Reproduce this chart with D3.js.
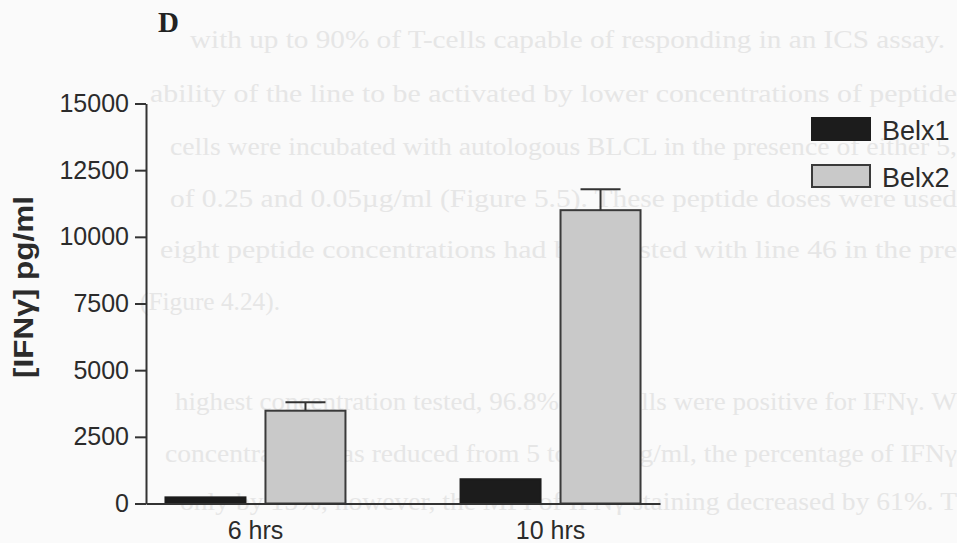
<!DOCTYPE html>
<html>
<head>
<meta charset="utf-8">
<script src="https://cdn.jsdelivr.net/npm/d3@7"></script>
<style>
  body { margin: 0; background: #fafafa; }
  svg { display: block; }
  .tick text, .xlab { font-family: "Liberation Sans", Arial, sans-serif; fill: #2b2b2b; }
  .bleed { font-family: "Liberation Serif", "Times New Roman", serif; fill: #e6e6e6; }
</style>
</head>
<body>
<div id="chart"></div>
<script>
// chart values
const groups = ["6 hrs", "10 hrs"];
const series = ["Belx1", "Belx2"];
const belx1 = [230, 910];
const belx2 = [3480, 11000];
const belx2Err = [315, 780];
const belx1Err = [0, 0];
const yTicks = [0, 2500, 5000, 7500, 10000, 12500, 15000];

// faint text showing through the scanned page
const bleedText = [
  "with up to 90% of T-cells capable of responding in an ICS assay.",
  "ability of the line to be activated by lower concentrations of peptide",
  "cells were incubated with autologous BLCL in the presence of either 5,",
  "of 0.25 and 0.05\u00b5g/ml (Figure 5.5). These peptide doses were used",
  "eight peptide concentrations had been tested with line 46 in the pre",
  "(Figure 4.24).",
  "highest concentration tested, 96.8% of T-cells were positive for IFN\u03b3.  W",
  "concentration was reduced from 5 to 0.05\u00b5g/ml, the percentage of IFN\u03b3",
  "only by 15%, however, the MFI of IFN\u03b3 staining decreased by 61%.  T"
];
const bleedLayout = [[190, 48, 755], [150, 102, 807], [170, 155, 787], [170, 207, 787],
  [160, 258, 797], [140, 310, 140], [175, 410, 782], [165, 462, 792], [180, 510, 777]];

const width = 957, height = 543;
const margin = {top: 103.5, left: 146, right: 297, bottom: 39.5};

const svg = d3.select("#chart").append("svg")
  .attr("width", width).attr("height", height);

svg.append("g").selectAll("text.bleed")
  .data(bleedText)
  .join("text")
  .attr("class", "bleed")
  .attr("x", (d, i) => bleedLayout[i][0])
  .attr("y", (d, i) => bleedLayout[i][1])
  .attr("textLength", (d, i) => bleedLayout[i][2])
  .attr("lengthAdjust", "spacingAndGlyphs")
  .style("font-size", "25px")
  .text(d => d);

let y = d3.scaleLinear().domain([0, 15000]).range([height - margin.bottom, margin.top]);
let x0 = d3.scaleBand().domain(groups).range([margin.left, width - margin.right])
  .paddingInner(0.39).paddingOuter(0.066);
let x1 = d3.scaleBand().domain(series).range([0, x0.bandwidth()]).paddingInner(0.2);
let fill = d3.scaleOrdinal().domain(series).range(["#1c1c1c", "#c9c9c9"]);

let data = groups.map((g, i) => ({
  group: g,
  vals: [
    {key: "Belx1", v: belx1[i], err: belx1Err[i]},
    {key: "Belx2", v: belx2[i], err: belx2Err[i]}
  ]
}));

// "D" panel letter
svg.append("text")
  .attr("x", 158).attr("y", 32)
  .style("font-family", "'Liberation Serif', 'Times New Roman', serif")
  .style("font-weight", "bold").style("font-size", "29px").style("fill", "#222")
  .text("D");

let barG = svg.append("g").selectAll("g")
  .data(data)
  .join("g")
  .attr("transform", d => `translate(${x0(d.group)},0)`);

barG.selectAll("rect")
  .data(d => d.vals)
  .join("rect")
  .attr("x", d => x1(d.key))
  .attr("y", d => y(d.v))
  .attr("width", x1.bandwidth())
  .attr("height", d => y(0) - y(d.v))
  .attr("fill", d => fill(d.key))
  .attr("stroke", d => d.key == "Belx1" ? "#1c1c1c" : "#3a3a3a")
  .attr("stroke-width", 2);

// error bars (upper only)
let errG = barG.selectAll("g.err")
  .data(d => d.vals.filter(v => v.err > 0))
  .join("g").attr("class", "err");

errG.append("line")
  .attr("x1", d => x1(d.key) + x1.bandwidth() / 2)
  .attr("x2", d => x1(d.key) + x1.bandwidth() / 2)
  .attr("y1", d => y(d.v)).attr("y2", d => y(d.v + d.err))
  .attr("stroke", "#333").attr("stroke-width", 2);

errG.append("line")
  .attr("x1", d => x1(d.key) + x1.bandwidth() / 2 - 20)
  .attr("x2", d => x1(d.key) + x1.bandwidth() / 2 + 20)
  .attr("y1", d => y(d.v + d.err)).attr("y2", d => y(d.v + d.err))
  .attr("stroke", "#333").attr("stroke-width", 2);

// axes
let yAxis = d3.axisLeft(y).tickValues(yTicks).tickSize(11).tickPadding(6)
  .tickSizeOuter(0).tickFormat(d3.format("d"));

let yG = svg.append("g")
  .attr("transform", `translate(${margin.left},0)`)
  .call(yAxis);
yG.selectAll("text").style("font-size", "25px");
yG.selectAll("path, line").attr("stroke", "#333").attr("stroke-width", 2);

let xAxis = d3.axisBottom(x0).tickSize(0).tickSizeOuter(0).tickPadding(18);
let xG = svg.append("g")
  .attr("transform", `translate(0,${y(0)})`)
  .call(xAxis);
xG.selectAll("text").style("font-size", "25px");
xG.select("path").attr("stroke", "#333").attr("stroke-width", 2);

// y axis title
svg.append("text")
  .attr("transform", "translate(33,287) rotate(-90)")
  .attr("text-anchor", "middle")
  .attr("textLength", 182).attr("lengthAdjust", "spacingAndGlyphs")
  .style("font-family", "'Liberation Sans', Arial, sans-serif")
  .style("font-weight", "bold").style("font-size", "27px").style("fill", "#2b2b2b")
  .text("[IFN\u03b3] pg/ml");

// legend
let legend = svg.append("g").selectAll("g")
  .data(series)
  .join("g")
  .attr("transform", (d, i) => `translate(812,${118 + i * 47})`);

legend.append("rect")
  .attr("width", 58).attr("height", 22)
  .attr("fill", d => fill(d))
  .attr("stroke", d => d == "Belx1" ? "#1c1c1c" : "#3a3a3a")
  .attr("stroke-width", 2);

legend.append("text")
  .attr("class", "xlab")
  .attr("x", 70).attr("y", 21.5)
  .style("font-size", "27px")
  .text(d => d);
</script>
</body>
</html>
